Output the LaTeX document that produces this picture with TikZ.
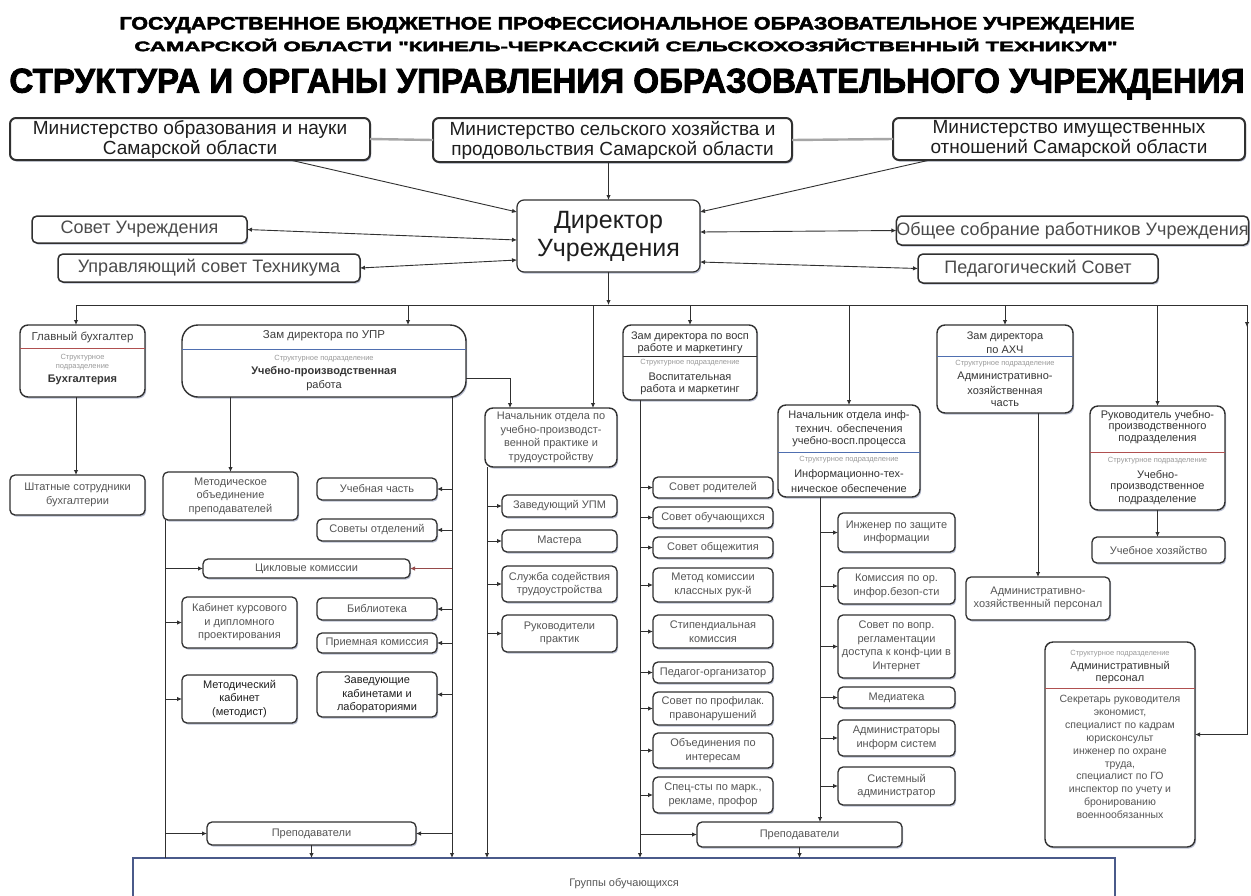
\documentclass[tikz,border=0pt]{standalone}
\usepackage{fontspec}
\setmainfont{Liberation Sans}
\newfontfamily\ttlfont[FakeBold=2.5]{Liberation Sans Bold}
\usetikzlibrary{arrows.meta,shadows,calc}
\definecolor{lnc}{HTML}{303030}
\definecolor{txt}{HTML}{555555}
\definecolor{dtx}{HTML}{1E1E1E}
\definecolor{lgr}{HTML}{9A9A9A}
\definecolor{divb}{HTML}{4F6FB0}
\definecolor{divr}{HTML}{B05050}
\definecolor{shd}{HTML}{8C95B5}
\definecolor{barc}{HTML}{4A5A8A}
\newcommand\fsz[2]{\fontsize{#1}{#2}\selectfont}
\newcounter{tn}
\newcommand\tl[4]{\stepcounter{tn}\node[#3] (tl\arabic{tn}) at (#1,#2) {#4};}
\newcommand\bx[7][]{\node[sbox,#1,minimum width={(#5-#3)*1pt},minimum height={(#6-#4)*1pt}] (#2) at ({(#3+#5)/2},{(#4+#6)/2}) {#7};}
\tikzset{
  plain/.style={draw=lnc, line width=1.3pt, rounded corners=5pt, fill=white, align=center,
     inner sep=0pt, outer sep=0pt, text=txt, font=\fsz{11}{13.5}},
  sbox/.style={plain,
     drop shadow={shadow xshift=1.2pt, shadow yshift=-1.6pt, fill=shd, opacity=0.6}},
  mbox/.style={line width=2pt, rounded corners=6pt, text=dtx, font=\fsz{19}{20}},
  dbox/.style={line width=1.2pt, rounded corners=7pt, text=dtx, font=\fsz{25}{28}},
  cbox/.style={line width=1.5pt, rounded corners=5pt, text=dtx!80, font=\fsz{18}{20}},
  hbox/.style={line width=1.4pt, rounded corners=8pt},
  dk/.style={text=dtx},
  hd/.style={inner sep=0pt, text=dtx!85, font=\fsz{11.5}{13}},
  bd/.style={inner sep=0pt, text=dtx!90, font=\fsz{11}{13}},
  sg/.style={inner sep=0pt, text=lgr, font=\fsz{7.5}{9}},
  lst/.style={inner sep=0pt, align=center, text=txt, font=\fsz{10.5}{12.9}},
  ln/.style={draw=lnc, line width=0.9pt},
  wl/.style={draw=gray!70, line width=2.4pt},
  arr/.style={ln, -{Latex[length=5pt,width=4.5pt]}},
  barr/.style={ln, {Latex[length=5pt,width=4.5pt]}-{Latex[length=5pt,width=4.5pt]}},
  dvb/.style={draw=divb, line width=1pt},
  dvr/.style={draw=divr, line width=1pt},
  dvg/.style={draw=lnc, line width=1pt},
  ttl/.style={inner sep=0pt, text=black}
}
\begin{document}
\begin{tikzpicture}[x=1pt,y=-1pt]
\useasboundingbox (0,0) rectangle (1251,895);
\clip (0,0) rectangle (1251,895);
\fill[white] (0,0) rectangle (1251,895);
% titles
\node[ttl] (t1) at (627,25) {\resizebox{1015pt}{12.5pt}{\ttlfont ГОСУДАРСТВЕННОЕ БЮДЖЕТНОЕ ПРОФЕССИОНАЛЬНОЕ ОБРАЗОВАТЕЛЬНОЕ УЧРЕЖДЕНИЕ}};
\node[ttl] (t2) at (626,45) {\resizebox{983pt}{12.5pt}{\ttlfont САМАРСКОЙ ОБЛАСТИ "КИНЕЛЬ-ЧЕРКАССКИЙ СЕЛЬСКОХОЗЯЙСТВЕННЫЙ ТЕХНИКУМ"}};
\node[ttl] (t3) at (627,84) {\resizebox{1235pt}{24pt}{\ttlfont СТРУКТУРА И ОРГАНЫ УПРАВЛЕНИЯ ОБРАЗОВАТЕЛЬНОГО УЧРЕЖДЕНИЯ}};
% ministries and director
\bx[mbox]{m1}{10}{118}{370}{160}{Министерство образования и науки\\Самарской области}
\bx[mbox]{m2}{433}{118}{792}{162}{Министерство сельского хозяйства и\\продовольствия Самарской области}
\bx[mbox]{m3}{893}{118}{1245}{160}{Министерство имущественных\\отношений Самарской области}
\bx[dbox]{dir}{517}{200}{700}{272}{Директор\\Учреждения}
\bx[cbox]{sov}{32}{216}{247}{243}{Совет Учреждения}
\bx[cbox]{ups}{58}{254}{360}{282}{Управляющий совет Техникума}
\bx[cbox]{obs}{897}{216}{1248}{245}{Общее собрание работников Учреждения}
\bx[cbox]{ped}{918}{254}{1158}{283}{Педагогический Совет}
% header boxes
\bx[hbox]{ghb}{20}{325}{145}{397}{}
\bx[hbox,rounded corners=16pt]{upr}{182}{325}{466}{397}{}
\bx[hbox]{nach}{485}{408}{617}{467}{Начальник отдела по\\учебно-производст-\\венной практике и\\трудоустройству}
\bx[hbox]{vosp}{623}{325}{757}{400}{}
\bx[hbox]{inf}{778}{405}{920}{497}{}
\bx[hbox]{ahch}{937}{325}{1073}{413}{}
\bx[hbox]{ruk}{1090}{406}{1225}{510}{}
\bx[hbox]{admp}{1045}{642}{1195}{847}{}
% header box texts
\draw[dvr] (ghb.west |- 0,348) -- (ghb.east |- 0,348);
\tl{82.5}{337}{hd}{Главный бухгалтер}
\tl{82.5}{358}{sg}{Структурное}
\tl{82.5}{367}{sg}{подразделение}
\tl{82.5}{380}{bd}{\bfseries Бухгалтерия}
\draw[dvb] (upr.west |- 0,349) -- (upr.east |- 0,349);
\tl{324}{336}{hd}{Зам директора по УПР}
\tl{324}{359}{sg}{Структурное подразделение}
\tl{324}{372}{bd}{\bfseries Учебно-производственная}
\tl{324}{386}{bd}{работа}
\draw[dvg] (vosp.west |- 0,356) -- (vosp.east |- 0,356);
\tl{690}{337}{bd}{Зам директора по восп}
\tl{690}{349}{bd}{работе и маркетингу}
\tl{690}{363}{sg}{Структурное подразделение}
\tl{690}{377}{bd}{Воспитательная}
\tl{690}{390}{bd}{работа и маркетинг}
\draw[dvb] (inf.west |- 0,452) -- (inf.east |- 0,452);
\tl{849}{416}{bd}{Начальник отдела инф-}
\tl{849}{429}{bd}{технич. обеспечения}
\tl{849}{442}{bd}{учебно-восп.процесса}
\tl{849}{460}{sg}{Структурное подразделение}
\tl{849}{475}{bd}{Информационно-тех-}
\tl{849}{489}{bd}{ническое обеспечение}
\draw[dvb] (ahch.west |- 0,356) -- (ahch.east |- 0,356);
\tl{1005}{337}{bd}{Зам директора}
\tl{1005}{350}{bd}{по АХЧ}
\tl{1005}{364}{sg}{Структурное подразделение}
\tl{1005}{377}{bd}{Административно-}
\tl{1005}{390}{bd}{хозяйственная}
\tl{1005}{404}{bd}{часть}
\draw[dvr] (ruk.west |- 0,452) -- (ruk.east |- 0,452);
\tl{1157.5}{416}{bd}{Руководитель учебно-}
\tl{1157.5}{428}{bd}{производственного}
\tl{1157.5}{440}{bd}{подразделения}
\tl{1157.5}{461}{sg}{Структурное подразделение}
\tl{1157.5}{475}{bd}{Учебно-}
\tl{1157.5}{488}{bd}{производственное}
\tl{1157.5}{501}{bd}{подразделение}
\draw[dvr] (admp.west |- 0,688) -- (admp.east |- 0,688);
\tl{1120}{654}{sg}{Структурное подразделение}
\tl{1120}{667}{bd}{Административный}
\tl{1120}{680}{bd}{персонал}
\node[lst] (admlist) at (1120,757) {Секретарь руководителя\\экономист,\\специалист по кадрам\\юрисконсульт\\инженер по охране\\труда,\\специалист по ГО\\инспектор по учету и\\бронированию\\военнообязанных};
% small boxes
\bx{shs}{10}{475}{145}{515}{Штатные сотрудники\\бухгалтерии}
\bx{met}{163}{472}{298}{520}{Методическое\\объединение\\преподавателей}
\bx{uch}{317}{478}{437}{500}{Учебная часть}
\bx{sovo}{317}{519}{437}{541}{Советы отделений}
\bx{cikl}{203}{559}{410}{578}{Цикловые комиссии}
\bx{kab}{182}{597}{297}{648}{Кабинет курсового\\и дипломного\\проектирования}
\bx{bib}{317}{598}{437}{620}{Библиотека}
\bx{prm}{317}{633}{437}{653}{Приемная комиссия}
\bx[dk]{metk}{182}{675}{297}{723}{Методический\\кабинет\\(методист)}
\bx[dk]{zav}{317}{672}{437}{717}{Заведующие\\кабинетами и\\лабораториями}
\bx{prepL}{207}{822}{416}{845}{Преподаватели}
\bx{zupm}{502}{495}{617}{517}{Заведующий УПМ}
\bx{mast}{502}{530}{617}{552}{Мастера}
\bx{sluzh}{502}{566}{617}{602}{Служба содействия\\трудоустройства}
\bx{rukpr}{502}{615}{617}{652}{Руководители\\практик}
\bx{sr}{653}{477}{773}{498}{Совет родителей}
\bx{so}{653}{507}{773}{528}{Совет обучающихся}
\bx{sob}{653}{537}{773}{558}{Совет общежития}
\bx{mk}{653}{568}{773}{602}{Метод комиссии\\классных рук-й}
\bx{st}{653}{615}{773}{648}{Стипендиальная\\комиссия}
\bx{po}{653}{662}{773}{683}{Педагог-организатор}
\bx{sp}{653}{692}{773}{725}{Совет по профилак.\\правонарушений}
\bx{oi}{653}{733}{773}{768}{Объединения по\\интересам}
\bx{ss}{653}{777}{773}{813}{Спец-сты по марк.,\\рекламе, профор}
\bx{prepR}{697}{822}{902}{847}{Преподаватели}
\bx{izi}{838}{513}{955}{552}{Инженер по защите\\информации}
\bx{kib}{838}{568}{955}{604}{Комиссия по ор.\\инфор.безоп-сти}
\bx{svr}{838}{615}{955}{678}{Совет по вопр.\\регламентации\\доступа к конф-ции в\\Интернет}
\bx{med}{838}{687}{955}{708}{Медиатека}
\bx{adm}{838}{720}{955}{756}{Администраторы\\информ систем}
\bx{sys}{838}{767}{955}{805}{Системный\\администратор}
\bx{ahp}{966}{577}{1110}{620}{Административно-\\хозяйственный персонал}
\bx{uh}{1092}{537}{1225}{563}{Учебное хозяйство}
\node[plain,line width=1.2pt,rounded corners=0pt,draw=barc,minimum width=982pt,minimum height=52pt] (bar) at (624,884) {Группы обучающихся};
% top connectors
\draw[wl] (m1.east) -- (m2.west);
\draw[wl] (m2.east) -- (m3.west);
\draw[arr] ([xshift=100pt]m1.south) -- ([yshift=-12pt]dir.north west);
\draw[arr] (m2.south -| dir.north) -- (dir.north);
\draw[arr] ([xshift=-139pt]m3.south) -- ([yshift=-12pt]dir.north east);
\draw[barr] ([yshift=-40pt]dir.north west) -- (sov.east);
\draw[barr] ([yshift=-60pt]dir.north west) -- (ups.east);
\draw[barr] ([yshift=-32pt]dir.north east) -- (obs.west);
\draw[barr] ([yshift=-62pt]dir.north east) -- (ped.west);
% bus
\coordinate (busL) at (76,305);
\coordinate (busR) at (1247,305);
\draw[arr] (dir.south) -- (dir.south |- busL);
\draw[ln] (busL) -- (busR);
\draw[arr] (busL) -- (busL |- ghb.north);
\draw[arr] ([xshift=84pt]upr.north |- busL) -- ([xshift=84pt]upr.north);
\draw[arr] ([xshift=42pt]nach.north |- busL) -- ([xshift=42pt]nach.north);
\draw[arr] (vosp.north |- busL) -- (vosp.north);
\draw[arr] (inf.north |- busL) -- (inf.north);
\draw[arr] (ahch.north |- busL) -- (ahch.north);
\draw[arr] (ruk.north |- busL) -- (ruk.north);
\draw[arr] (busR) -- ++(0,22);
\draw[arr] (busR) |- ([yshift=10pt]admp.east);
% left branches
\draw[arr] (ghb.south -| busL) -- (shs.north -| busL);
\draw[arr] (upr.south -| met.north) -- (met.north);
\draw[arr] ([yshift=-53pt]upr.north east) -| ([xshift=-41pt]nach.north);
\coordinate (vL) at ([xshift=2pt]met.south west);
\draw[ln] (vL) -- (vL |- bar.north);
\draw[arr] (vL |- cikl.west) -- (cikl.west);
\draw[arr] (vL |- kab.west) -- (kab.west);
\draw[arr] (vL |- metk.west) -- (metk.west);
\draw[arr] (vL |- prepL.west) -- (prepL.west);
\coordinate (vR) at ([xshift=-14pt]upr.south east);
\draw[arr] (vR) -- (vR |- bar.north);
\foreach \n in {uch,sovo,bib,prm,zav,prepL} {\draw[arr] (vR |- \n.east) -- (\n.east);}
\draw[arr, draw=divr!80!lnc] (vR |- cikl.east) -- (cikl.east);
\coordinate (vN) at ([xshift=2pt]nach.south west);
\draw[arr] (vN) -- (vN |- bar.north);
\foreach \n in {zupm,mast,sluzh,rukpr} {\draw[arr] (vN |- \n.west) -- (\n.west);}
\coordinate (vV) at ([xshift=17pt]vosp.south west);
\draw[arr] (vV) -- (vV |- bar.north);
\foreach \n in {sr,so,sob,mk,st,po,sp,oi,ss,prepR} {\draw[arr] (vV |- \n.west) -- (\n.west);}
\coordinate (vI) at ([xshift=42pt]inf.south west);
\draw[arr] (vI) -- (vI |- prepR.north);
\foreach \n in {izi,kib,svr,med,adm,sys} {\draw[arr] (vI |- \n.west) -- (\n.west);}
\draw[arr] (prepL.south) -- (prepL.south |- bar.north);
\draw[arr] (prepR.south) -- (prepR.south |- bar.north);
\draw[arr] ([xshift=33pt]ahch.south) -- (ahp.north);
\draw[arr] (ruk.south) -- (ruk.south |- uh.north);
\end{tikzpicture}
\end{document}
